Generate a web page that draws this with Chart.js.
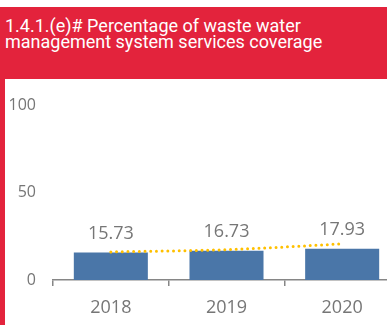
<!DOCTYPE html>
<html>
<head>
<meta charset="utf-8">
<script src="https://cdn.jsdelivr.net/npm/chart.js@4.4.1/dist/chart.umd.min.js"></script>
<style>
  html, body { margin: 0; padding: 0; }
  body { width: 387px; height: 325px; overflow: hidden; position: relative; background: #fff; }
  #titre {
    position: absolute; left: 0; top: 7px; width: 387px; height: 61px;
    background: #E3233C; color: #fff;
    font-family: Roboto, sans-serif; font-size: 18px; line-height: 16px;
    padding: 11px 0 0 5px; box-sizing: content-box;
  }
  #bord { position: absolute; left: 0; top: 79px; width: 5px; height: 246px; background: #E3233C; }
  #zone { position: absolute; left: 5px; top: 79px; width: 395px; height: 246px; }
</style>
</head>
<body>
<div id="titre">1.4.1.(e)# Percentage of waste water<br>management system services coverage</div>
<div id="bord"></div>
<div id="zone"><canvas id="myChart" width="395" height="246"></canvas></div>
<script>
const annees = ['2018', '2019', '2020'];
const couverture = [15.73, 16.73, 17.93];
const tendance = [16.1, 17.4, 20.7];
const ticksY = [0, 50, 100];

const gris = '#767676';

// écrit la valeur au-dessus de chaque barre
const etiquettes = {
  id: 'etiquettes',
  afterDatasetsDraw(chart) {
    const ctx = chart.ctx;
    const meta = chart.getDatasetMeta(0);
    ctx.save();
    ctx.font = '18px "Open Sans"';
    ctx.fillStyle = gris;
    ctx.textAlign = 'center';
    ctx.textBaseline = 'middle';
    meta.data.forEach((bar, i) => {
      ctx.fillText(couverture[i].toFixed(2), bar.x, bar.y - 19);
    });
    ctx.restore();
  }
};

var ctx = document.getElementById('myChart').getContext('2d');
var myChart = new Chart(ctx, {
  data: {
    labels: annees,
    datasets: [{
      type: 'bar',
      data: couverture,
      backgroundColor: '#4A76A8',
      barPercentage: 0.64,
      categoryPercentage: 1,
      order: 1
    }, {
      type: 'line',
      data: tendance,
      borderColor: '#FFC000',
      borderWidth: 3,
      borderDash: [0, 5.7],
      borderCapStyle: 'round',
      pointRadius: 0,
      cubicInterpolationMode: 'monotone',
      order: 0
    }]
  },
  options: {
    responsive: false,
    animation: false,
    layout: { padding: { top: 19, left: 0, right: 0, bottom: 0 } },
    plugins: { legend: { display: false }, tooltip: { enabled: false } },
    scales: {
      x: {
        grid: { display: true, drawOnChartArea: false, drawTicks: true, tickLength: 6, color: '#868686', lineWidth: 1.5 },
        border: { display: true, color: '#868686', width: 1.5 },
        ticks: { color: gris, font: { family: 'Open Sans', size: 18 }, padding: 11 },
        afterFit: s => { s.height = 45; }
      },
      y: {
        min: 0,
        max: 100,
        afterBuildTicks: s => { s.ticks = ticksY.map(v => ({ value: v })); },
        grid: { display: false, drawTicks: false },
        border: { display: false },
        ticks: { color: gris, font: { family: 'Open Sans', size: 16 }, padding: 17 },
        afterFit: s => { s.width = 48; }
      }
    }
  },
  plugins: [etiquettes]
});
</script>
</body>
</html>
